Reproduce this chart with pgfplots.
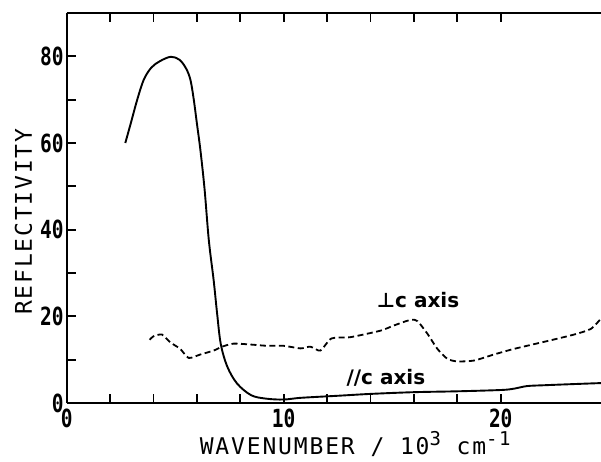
\documentclass[border=0pt]{standalone}
\usepackage{fontspec}
\usepackage{pgfplots}
\pgfplotsset{compat=1.18}
\setmainfont{DejaVu Sans Mono}[LetterSpace=8]
\newfontfamily\tickfont{DejaVu Sans Mono Bold}[FakeStretch=0.78]
\newfontfamily\annfont{DejaVu Sans Bold}

\begin{document}
\begin{tikzpicture}
\begin{axis}[
    at={(0,0)}, anchor=south west,
    scale only axis,
    width=534.3pt, height=390pt,
    xmin=0, xmax=24.62,
    ymin=0, ymax=90,
    axis x line*=box,
    axis y line*=left,
    axis line style={line width=1.8pt},
    xtick={0,10,20},
    minor x tick num=4,
    ytick={0,20,40,60,80},
    minor y tick num=1,
    tick align=inside,
    major tick length=9pt,
    minor tick length=9pt,
    every tick/.style={black, line width=1.8pt},
    /pgf/number format/assume math mode=true,
    ticklabel style={font=\tickfont\fontsize{25}{25}\selectfont},
    xticklabel style={inner sep=0pt, yshift=-6pt},
    yticklabel style={inner sep=0pt, xshift=-3pt},
    xlabel={WAVENUMBER / 10\raisebox{9pt}{\fontsize{19}{19}\selectfont 3} cm\raisebox{9pt}{\fontsize{19}{19}\selectfont -1}},
    ylabel={REFLECTIVITY},
    label style={font=\fontsize{23}{23}\selectfont},
    xlabel style={at={(axis description cs:0.54,-0.133)}, anchor=base},
    ylabel style={at={(axis description cs:-0.081,0.465)}, anchor=center, rotate=0},
    clip=true,
]
% E parallel c : solid
\addplot[black, line width=1.9pt, smooth, tension=0.55] coordinates {
(2.7,60) (2.95,64.5) (3.25,70) (3.55,74.6) (3.9,77.4) (4.3,78.9) (4.8,79.9) (5.2,79.2)
(5.5,77.2) (5.7,74.6) (5.85,70.2) (6.0,64.5) (6.16,58.4) (6.35,49.5)
(6.55,37.5) (6.77,28.4) (6.93,20.7) (7.1,13.6) (7.4,8.4) (7.85,4.5)
(8.5,1.8) (9.2,1.0) (10.0,0.8) (10.8,1.2) (12.6,1.7) (14.0,2.1)
(16.0,2.5) (18.0,2.7) (20.0,3.0) (20.6,3.3) (21.2,3.9) (22.0,4.1)
(23.0,4.3) (24.62,4.6)
};
% E perpendicular c : dashed
\addplot[black, line width=1.8pt, dash pattern=on 6pt off 3.5pt, smooth, tension=0.4] coordinates {
(3.82,14.6) (4.0,15.4) (4.39,15.8) (4.77,14.0) (5.23,12.5) (5.62,10.4)
(6.16,11.2) (6.77,12.1) (7.16,13.0) (7.69,13.7) (8.46,13.5) (9.23,13.2)
(10.0,13.2) (10.77,12.6) (11.23,13.0) (11.69,12.1) (12.2,14.9)
(13.08,15.2) (14.46,16.7) (15.08,17.9) (15.85,19.2) (16.16,18.9)
(16.62,16.0) (17.08,12.5) (17.54,10.2) (18.0,9.6) (18.77,9.8)
(19.69,11.2) (20.62,12.5) (22.15,14.3) (23.38,15.8) (24.15,17.1) (24.62,19.5)
};
\node[font=\annfont\fontsize{20}{20}\selectfont] at (axis cs:16.19,23.7) {⊥c axis};
\node[font=\annfont\fontsize{20}{20}\selectfont] at (axis cs:14.71,5.9) {//c axis};
\end{axis}
\pgfresetboundingbox
\path[use as bounding box] (-66.7pt,-58pt) rectangle (534.3pt,403pt);
\end{tikzpicture}
\end{document}
